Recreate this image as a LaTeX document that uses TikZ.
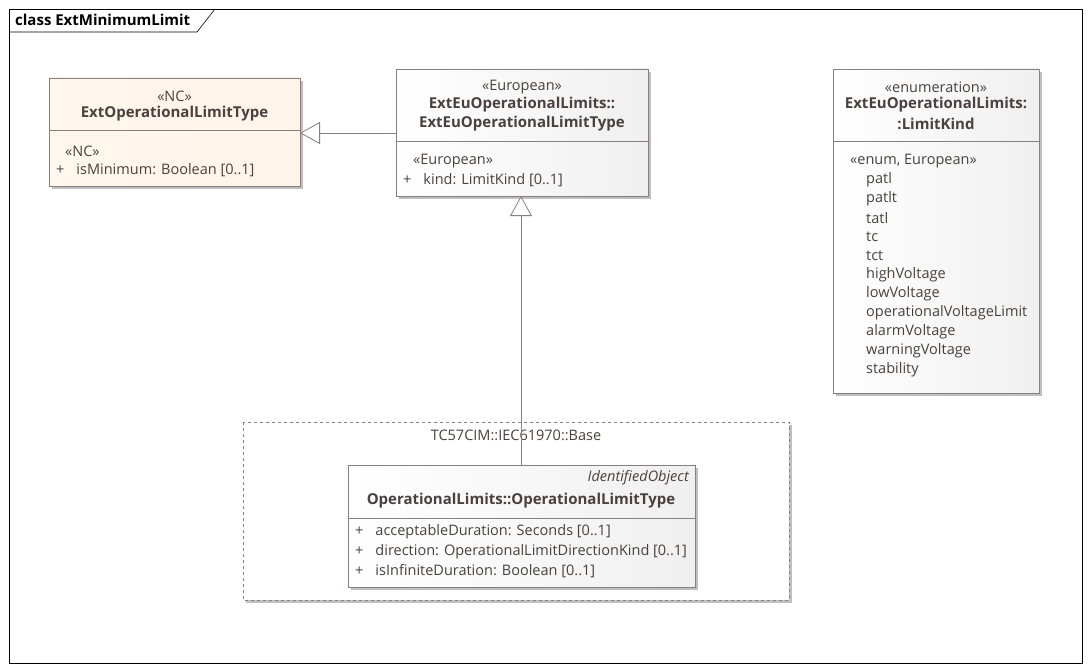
\documentclass[tikz,border=0pt]{standalone}
\usepackage{fontspec}
\setmainfont{Open Sans}
\usetikzlibrary{arrows.meta}
\definecolor{txt}{HTML}{4A4040}
\definecolor{ln}{HTML}{8A7E80}
\begin{document}
\begin{tikzpicture}[x=1pt,y=-1pt,font=\fontsize{14.5}{17}\selectfont,
 every node/.style={text=txt,inner sep=0pt},
 shad/.style={fill=black!25},
 gen/.style={draw=ln,line width=0.8pt,-{Triangle[open,length=20pt,width=22pt,fill=white]}},
 L/.style={anchor=west},
 B/.style={font=\fontsize{15}{17}\selectfont\bfseries}]
\useasboundingbox (0,0) rectangle (1091,671);
\fill[white] (0,0) rectangle (1091,671);
% frame
\draw[black,line width=0.6pt] (9,9) rectangle (1082,663);
\draw[black,line width=0.6pt] (9,32) -- (197,32) -- (215,9);
\node[L,text=black,font=\fontsize{15}{17}\selectfont\bfseries] (title) at (15,20) {class ExtMinimumLimit};
% NC box
\fill[shad] (52,81) rectangle (303,189);
\shade[left color=white!40!orange!12,right color=orange!8!white,draw=ln] (49,78) rectangle (300,186);
\node[draw=none,minimum width=251pt,minimum height=108pt,anchor=north west] (nc) at (49,78) {};
\draw[ln] (49,130) -- (300,130);
\node (ncs) at (174.5,96) {«NC»};
\node[B] (ncn) at (174.5,114) {ExtOperationalLimitType};
\node[L] at (65,151) {«NC»};
\node[L] at (56,170) {+\hspace{12pt}isMinimum: Boolean [0..1]};
% European box
\fill[shad] (399,72) rectangle (651,199);
\shade[left color=white,right color=black!6,draw=ln] (396,69) rectangle (648,196);
\node[minimum width=252pt,minimum height=127pt,anchor=north west] (eu) at (396,69) {};
\draw[ln] (396,141) -- (648,141);
\node at (522,87) {«European»};
\node[B] at (522,105) {ExtEuOperationalLimits::};
\node[B] at (522,124) {ExtEuOperationalLimitType};
\node[L] at (413,161) {«European»};
\node[L] at (403,180) {+\hspace{12pt}kind: LimitKind [0..1]};
% enum box
\fill[shad] (836,72) rectangle (1042,396);
\shade[left color=white,right color=black!6,draw=ln] (833,69) rectangle (1039,393);
\node[minimum width=206pt,minimum height=324pt,anchor=north west] (en) at (833,69) {};
\draw[ln] (833,141) -- (1039,141);
\node at (936,87) {«enumeration»};
\node[B] at (936,105) {ExtEuOperationalLimits:};
\node[B] at (936,124) {:LimitKind};
\node[L] at (850,161) {«enum, European»};
\foreach \t [count=\i from 0] in {patl,patlt,tatl,tc,tct,highVoltage,lowVoltage,operationalVoltageLimit,alarmVoltage,warningVoltage,stability}
  \node[L] at (866,180+19*\i) {\t};
% package
\fill[black!25] (246,425) rectangle (792,603);
\fill[white] (243,422) rectangle (789,600);
\draw[ln,dashed,line width=0.6pt] (243,422) rectangle (789,600);
\node (pkg) at (516,435) {TC57CIM::IEC61970::Base};
% Op box
\fill[shad] (351,468) rectangle (698,590);
\shade[left color=white,right color=black!6,draw=ln] (348,465) rectangle (695,587);
\node[minimum width=347pt,minimum height=122pt,anchor=north west] (op) at (348,465) {};
\draw[ln] (348,518) -- (695,518);
\node[anchor=east,font=\fontsize{14.5}{17}\selectfont\itshape] at (689,478) {IdentifiedObject};
\node[B] at (521,501) {OperationalLimits::OperationalLimitType};
\node[L] at (355,532) {+\hspace{12pt}acceptableDuration: Seconds [0..1]};
\node[L] at (355,552) {+\hspace{12pt}direction: OperationalLimitDirectionKind [0..1]};
\node[L] at (355,571) {+\hspace{12pt}isInfiniteDuration: Boolean [0..1]};
% connectors
\coordinate (e1) at (396,133);
\coordinate (n1) at (300,133);
\draw[gen] (e1) -- (n1);
\coordinate (o1) at (521,465);
\coordinate (e2) at (521,196);
\draw[gen] (o1) -- (e2);
\end{tikzpicture}
\end{document}
